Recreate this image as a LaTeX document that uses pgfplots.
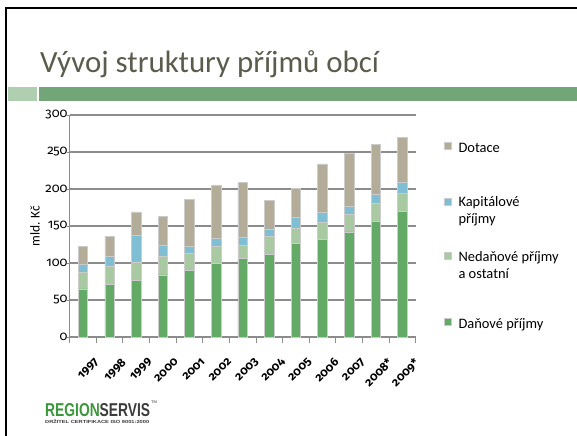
\documentclass[border=0pt]{standalone}
\usepackage{fontspec}
\setmainfont{Carlito}
\newfontfamily\numfont{Fira Sans}[Numbers=OldStyle]
\newfontfamily\logofont{Liberation Sans}
\usepackage{graphicx}
\usepackage{pgfplots}
\pgfplotsset{compat=1.18}
\definecolor{titlecol}{HTML}{5C5C4C}
\definecolor{barlight}{HTML}{B0CFB0}
\definecolor{bardark}{HTML}{72A578}
\definecolor{gA}{HTML}{62AA66}
\definecolor{gB}{HTML}{A8C9A2}
\definecolor{gC}{HTML}{80BED3}
\definecolor{gD}{HTML}{B2AC98}
\definecolor{gridc}{HTML}{8C8C8C}
\definecolor{logogreen}{HTML}{3A983A}
\definecolor{logodark}{HTML}{3C3C3C}
\pgfplotsset{legsq/.style={legend image code/.code={\fill[##1] (0bp,#1-3.5bp) rectangle (7bp,#1+3.5bp);}}}
\begin{document}
\begin{tikzpicture}
\path[use as bounding box, fill=white] (0,0) rectangle (577bp,-436bp);
% slide frame
\draw[line width=2.5bp, black] (6bp,-436bp) -- (6bp,-8bp) -- (577bp,-8bp);
% title
\node[anchor=base west, inner sep=0, text=titlecol, font=\fontsize{31}{31}\selectfont] at (40bp,-72bp) {Vývoj struktury příjmů obcí};
% green band
\fill[barlight] (7.5bp,-87bp) rectangle (37bp,-101bp);
\fill[bardark] (39bp,-87bp) rectangle (577bp,-101bp);
\begin{axis}[
  at={(83bp,-337bp)}, anchor=origin,
  scale only axis, width=346bp, height=222bp,
  ybar stacked, bar width=9.5bp,
  xmin=-0.5, xmax=12.5, ymin=0, ymax=300,
  xtick={-0.5,0.5,...,12.5},
  x tick label as interval,
  xticklabels={1997,1998,1999,2000,2001,2002,2003,2004,2005,2006,2007,2008*,2009*},
  xticklabel style={xshift=11bp, yshift=-14bp, rotate=45, anchor=north east, inner sep=0pt, font=\numfont\fontsize{12}{12}\selectfont\bfseries},
  ytick={0,50,...,300},
  yticklabel style={inner sep=0pt, xshift=1bp, font=\numfont\fontsize{13}{13}\selectfont, text=black},
  /pgf/number format/assume math mode=true,
  axis lines*=left,
  axis line style={gridc, line width=1bp},
  every tick/.style={gridc, line width=1bp},
  major tick length=6bp,
  xtick align=outside, ytick align=center,
  ymajorgrids, major grid style={gridc, line width=1.1bp},
  ylabel={mld. Kč},
  ylabel style={at={(axis description cs:-0.1,0.5)}, anchor=center, font=\fontsize{13.5}{13.5}\selectfont},
  legend style={at={(1.081,0.99)}, anchor=north west, draw=none, fill=none, inner sep=0pt,
    font=\fontsize{14.5}{17}\selectfont, row sep=0pt, column sep=5bp,
    cells={anchor=west, align=left, inner sep=0pt}},
  reverse legend,
  every axis plot/.append style={draw=black!20, line width=0.6bp},
]
\addplot[fill=gA, legsq=-14.75bp] coordinates {
 (0,65) (1,71) (2,77) (3,84) (4,90) (5,100) (6,106) (7,112) (8,126) (9,132) (10,142) (11,156) (12,170)};
\addplot[fill=gB, legsq=-1.5bp] coordinates {
 (0,22) (1,25) (2,24) (3,25) (4,23) (5,23) (6,18) (7,24) (8,21) (9,23) (10,24) (11,25) (12,24)};
\addplot[fill=gC, legsq=-9.75bp] coordinates {
 (0,11) (1,13) (2,36) (3,15) (4,10) (5,11) (6,11) (7,10) (8,15) (9,14) (10,11) (11,12) (12,15)};
\addplot[fill=gD, legsq=-9bp] coordinates {
 (0,24) (1,27) (2,32) (3,39) (4,63) (5,71) (6,74) (7,39) (8,39) (9,65) (10,71) (11,67) (12,61)};
\legend{{\rule{0pt}{44.5bp}Daňové příjmy},
        {\rule{0pt}{32.5bp}Nedaňové příjmy\\a ostatní},
        {\rule{0pt}{49bp}Kapitálové\\příjmy},
        {\rule{0pt}{33bp}Dotace}}
\end{axis}
% logo
\node[anchor=south west, inner sep=0] at (45bp,-417bp) {\resizebox{105bp}{13bp}{\logofont\bfseries\textcolor{logogreen}{REGION}\textcolor{logodark}{SERVIS}}};
\node[anchor=north west, inner sep=0, text=logodark, font=\logofont\fontsize{4}{4}\selectfont] at (151bp,-401bp) {TM};
\node[anchor=north west, inner sep=0] at (45bp,-419bp) {\resizebox{104bp}{4bp}{\logofont\bfseries\textcolor{logodark}{DRŽITEL CERTIFIKACE ISO 9001:2000}}};
\end{tikzpicture}
\end{document}
